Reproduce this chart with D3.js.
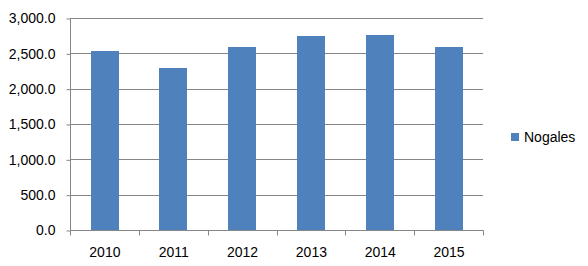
<!DOCTYPE html>
<html><head><meta charset="utf-8">
<script src="https://cdn.jsdelivr.net/npm/d3@7"></script>
<style>body{margin:0;background:#fff}svg{display:block}text{font-family:"Liberation Sans",Arial,sans-serif;fill:#000}</style>
</head><body>
<svg id="c" width="588" height="266"></svg>
<script>
const categories = ["2010","2011","2012","2013","2014","2015"];
const seriesName = "Nogales";
const values = [2530, 2295, 2595, 2740, 2760, 2595];
const yTicks = [0,500,1000,1500,2000,2500,3000];

const svg = d3.select("#c");
const pL = 70, pR = 483, pT = 18, pB = 230;
const x = d3.scaleBand().domain(categories).range([pL, pR]).paddingInner(0.6).paddingOuter(0.3);
const xb = d3.scaleBand().domain(categories).range([pL, pR]);
const y = d3.scaleLinear().domain([0,3000]).range([pB, pT]);
const grid = "#868686";

// gridlines
svg.append("g").selectAll("line").data(yTicks.filter(d=>d>0)).join("line")
  .attr("x1", pL).attr("x2", pR)
  .attr("y1", d=>Math.round(y(d))+0.5).attr("y2", d=>Math.round(y(d))+0.5)
  .attr("stroke", grid).attr("stroke-width",1);

// bars
svg.append("g").selectAll("rect").data(values).join("rect")
  .attr("x", (d,i)=>Math.round(x(categories[i])))
  .attr("width", Math.round(x.bandwidth()))
  .attr("y", d=>Math.round(y(d)))
  .attr("height", d=>pB - Math.round(y(d)))
  .attr("fill", "#4F81BD");

// y axis
const ya = svg.append("g").attr("transform", `translate(${pL+0.5},0.5)`)
  .call(d3.axisLeft(y).tickValues(yTicks).tickFormat(d3.format(",.1f")).tickSize(4).tickPadding(11));
ya.select(".domain").attr("stroke", grid).attr("d", `M0,${pT}V${pB}`);
ya.selectAll(".tick line").attr("stroke", grid);
ya.selectAll(".tick text").attr("font-size", 14).attr("fill","#000").attr("font-family","Liberation Sans, Arial, sans-serif");

// x axis
const xa = svg.append("g").attr("transform", `translate(0.5,${pB+0.5})`);
xa.append("line").attr("x1", pL).attr("x2", pR).attr("stroke", grid);
xa.selectAll(".tk").data(categories.concat(["_end"])).join("line")
  .attr("x1", (d,i)=>Math.round(i<categories.length? xb(d) : pR))
  .attr("x2", (d,i)=>Math.round(i<categories.length? xb(d) : pR))
  .attr("y1",0).attr("y2",5).attr("stroke", grid);
xa.selectAll(".lbl").data(categories).join("text")
  .attr("x", d=>xb(d)+xb.bandwidth()/2).attr("y", 26)
  .attr("text-anchor","middle").attr("font-size",14).text(d=>d);

// legend
const lg = svg.append("g");
lg.append("rect").attr("x",511).attr("y",133).attr("width",8).attr("height",8).attr("fill","#4F81BD");
lg.append("text").attr("x",524).attr("y",141.5).attr("font-size",14).text(seriesName);
</script>
</body></html>
